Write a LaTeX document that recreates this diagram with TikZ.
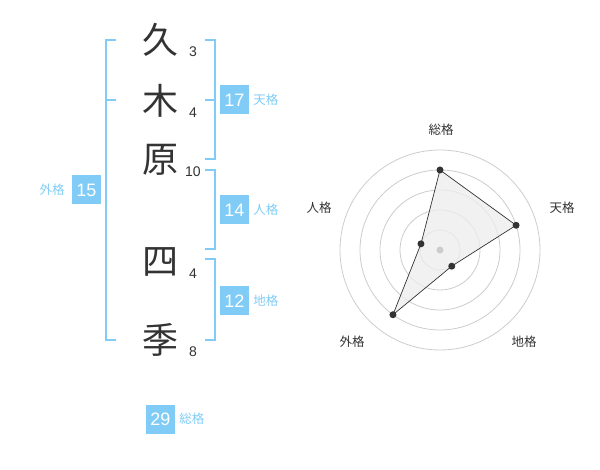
\documentclass[tikz,border=0pt]{standalone}
\usepackage{fontspec}
\setmainfont{Liberation Sans}
\newfontfamily\jpfont{Noto Sans CJK JP}
\usepackage{tikz}
\usetikzlibrary{positioning}
\definecolor{kakublue}{HTML}{80CCF6}
\definecolor{moji}{HTML}{333333}
\definecolor{wakusen}{HTML}{CCCCCC}

\begin{document}
\begin{tikzpicture}[x=1pt,y=-1pt,
  kanji/.style={font=\jpfont\fontsize{36}{36}\selectfont,text=moji,inner sep=0pt},
  kakusu/.style={font=\fontsize{14}{14}\selectfont,text=moji,inner sep=0pt},
  kakubox/.style={fill=kakublue,text=white,minimum size=29pt,inner sep=0pt,font=\fontsize{18}{18}\selectfont},
  kakuname/.style={font=\jpfont\fontsize{12.5}{12.5}\selectfont,text=kakublue,inner sep=0pt},
  radarname/.style={font=\jpfont\fontsize{12.5}{12.5}\selectfont,text=moji,inner sep=0pt},
  bracket/.style={draw=kakublue,line width=2pt}]
\useasboundingbox (0,0) rectangle (600,470);
% 名前と画数
\foreach \y / \ji / \kaku / \n in
  {40/久/3/1, 101/木/4/2, 160/原/10/3, 262/四/4/4, 340/季/8/5}
  {
   \node[kanji] (ji\n) at (160,\y) {\ji};
   \node[kakusu] (kaku\n) at (193,\y+12) {\kaku};
  }
% 括弧
\draw[bracket] (116,40) -| (106,340) -- (116,340);%外格
\draw[bracket] (106,100) -- (116,100);
\draw[bracket] (205,40) -| (215,159) -- (205,159);%天格
\draw[bracket] (205,100) -- (215,100);
\draw[bracket] (205,170) -| (215,249) -- (205,249);%人格
\draw[bracket] (205,259) -| (215,340) -- (205,340);%地格
% 五格
\node[kakubox] (ten) at (234.5,100) {17};
\node[kakuname, right=4pt of ten] (tenname) {天格};
\node[kakubox] (jin) at (234.5,210) {14};
\node[kakuname, right=4pt of jin] (jinname) {人格};
\node[kakubox] (chi) at (234.5,301) {12};
\node[kakuname, right=4pt of chi] (chiname) {地格};
\node[kakubox] (gai) at (86.5,190) {15};
\node[kakuname, left=7pt of gai] (gainame) {外格};
\node[kakubox] (sou) at (160.5,419) {29};
\node[kakuname, right=4pt of sou] (souname) {総格};
% レーダーチャート
\begin{scope}[shift={(440,250)}]
\foreach \r in {20,40,60,80,100}
   \draw[wakusen, line width=0.8pt] (0,0) circle (\r pt);
\foreach \angle / \val / \n in {90/80/1, 18/80/2, -54/20/3, -126/80/4, 162/20/5}
   \coordinate (p\n) at (\angle:\val pt);
\filldraw[fill=black!7, fill opacity=0.8, draw=moji, line width=0.7pt]
   (p1) -- (p2) -- (p3) -- (p4) -- (p5) -- cycle;
\fill[wakusen] (0,0) circle (3.5pt);%中心
\foreach \n in {1,...,5}
   \fill[moji] (p\n) circle (3.5pt);
\end{scope}
\foreach \x / \y / \label / \n in
  {441/130/総格/1, 562/208/天格/2, 524/342/地格/3, 352/342/外格/4, 319/208/人格/5}
   \node[radarname] (rn\n) at (\x,\y) {\label};
\end{tikzpicture}
\end{document}
